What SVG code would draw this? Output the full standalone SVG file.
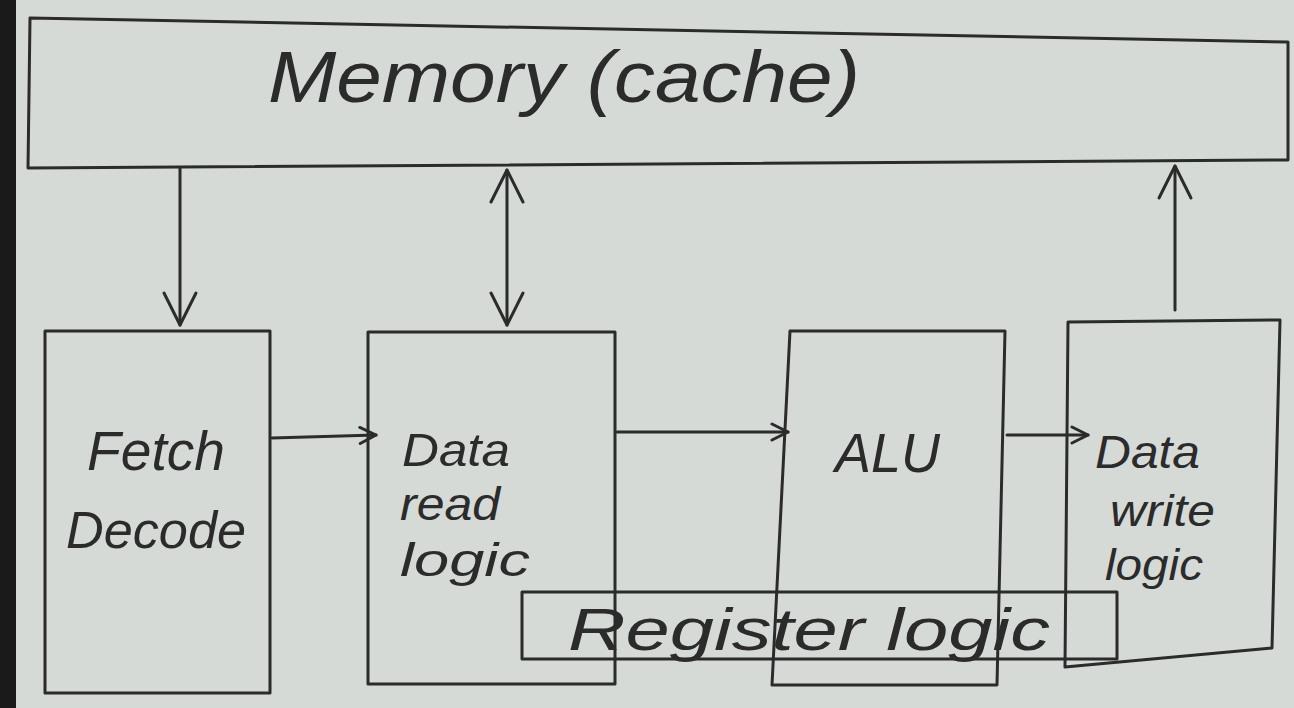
<svg xmlns="http://www.w3.org/2000/svg" width="1294" height="708" viewBox="0 0 1294 708">
<defs>
<style>
.box{fill:none;stroke:#2b2b2b;stroke-width:3;stroke-linejoin:round}
.line{fill:none;stroke:#2b2b2b;stroke-width:3;stroke-linecap:round}
.t{font-family:"Liberation Sans","DejaVu Sans",sans-serif;fill:#2b2b2b;font-style:italic}
</style>
<marker id="ah" viewBox="0 0 20 20" refX="18" refY="10" markerWidth="20" markerHeight="20" markerUnits="userSpaceOnUse" orient="auto-start-reverse">
<path d="M2,2 L18,10 L2,18" fill="none" stroke="#2b2b2b" stroke-width="3" stroke-linecap="round" stroke-linejoin="round"/>
</marker>
<marker id="ahBig" viewBox="0 0 40 40" refX="36" refY="20" markerWidth="40" markerHeight="40" markerUnits="userSpaceOnUse" orient="auto-start-reverse">
<path d="M4,4 L36,20 L4,36" fill="none" stroke="#2b2b2b" stroke-width="3" stroke-linecap="round" stroke-linejoin="round"/>
</marker>
</defs>
<rect x="0" y="0" width="1294" height="708" fill="#d6dad7"/>
<rect x="0" y="0" width="16" height="708" fill="#1a1a1a"/>

<g id="memory">
<polygon class="box" points="30,18 1288,42 1288,160 28,168"/>
<text class="t" x="268" y="102" font-size="72" textLength="592" lengthAdjust="spacingAndGlyphs">Memory (cache)</text>
</g>

<g id="fetch-decode">
<rect class="box" x="45" y="331" width="225" height="362"/>
<text class="t" x="87" y="470" font-size="56" textLength="138" lengthAdjust="spacingAndGlyphs">Fetch</text>
<text class="t" x="66" y="548" font-size="52" textLength="180" lengthAdjust="spacingAndGlyphs">Decode</text>
</g>

<g id="data-read-logic">
<rect class="box" x="368" y="332" width="247" height="352"/>
<text class="t" x="402" y="466" font-size="46" textLength="108" lengthAdjust="spacingAndGlyphs">Data</text>
<text class="t" x="400" y="520" font-size="46" textLength="100" lengthAdjust="spacingAndGlyphs">read</text>
<text class="t" x="400" y="576" font-size="46" textLength="130" lengthAdjust="spacingAndGlyphs">logic</text>
</g>

<g id="alu">
<polygon class="box" points="790,331 1005,331 997,685 772,685"/>
<text class="t" x="835" y="472" font-size="56" textLength="105" lengthAdjust="spacingAndGlyphs">ALU</text>
</g>

<g id="data-write-logic">
<polygon class="box" points="1068,322 1280,320 1272,648 1065,667"/>
<text class="t" x="1095" y="468" font-size="46" textLength="105" lengthAdjust="spacingAndGlyphs">Data</text>
<text class="t" x="1110" y="526" font-size="44" textLength="105" lengthAdjust="spacingAndGlyphs">write</text>
<text class="t" x="1105" y="580" font-size="44" textLength="98" lengthAdjust="spacingAndGlyphs">logic</text>
</g>

<g id="register-logic">
<rect class="box" x="522" y="592" width="595" height="67"/>
<text class="t" x="568" y="650" font-size="60" textLength="482" lengthAdjust="spacingAndGlyphs">Register logic</text>
</g>

<g id="connectors">
<line class="line" x1="180" y1="168" x2="180" y2="325" marker-end="url(#ahBig)"/>
<line class="line" x1="507" y1="170" x2="507" y2="325" marker-start="url(#ahBig)" marker-end="url(#ahBig)"/>
<line class="line" x1="1175" y1="310" x2="1175" y2="166" marker-end="url(#ahBig)"/>
<line class="line" x1="272" y1="438" x2="376" y2="435" marker-end="url(#ah)"/>
<line class="line" x1="617" y1="432" x2="788" y2="432" marker-end="url(#ah)"/>
<line class="line" x1="1007" y1="435" x2="1088" y2="435" marker-end="url(#ah)"/>
</g>
</svg>
